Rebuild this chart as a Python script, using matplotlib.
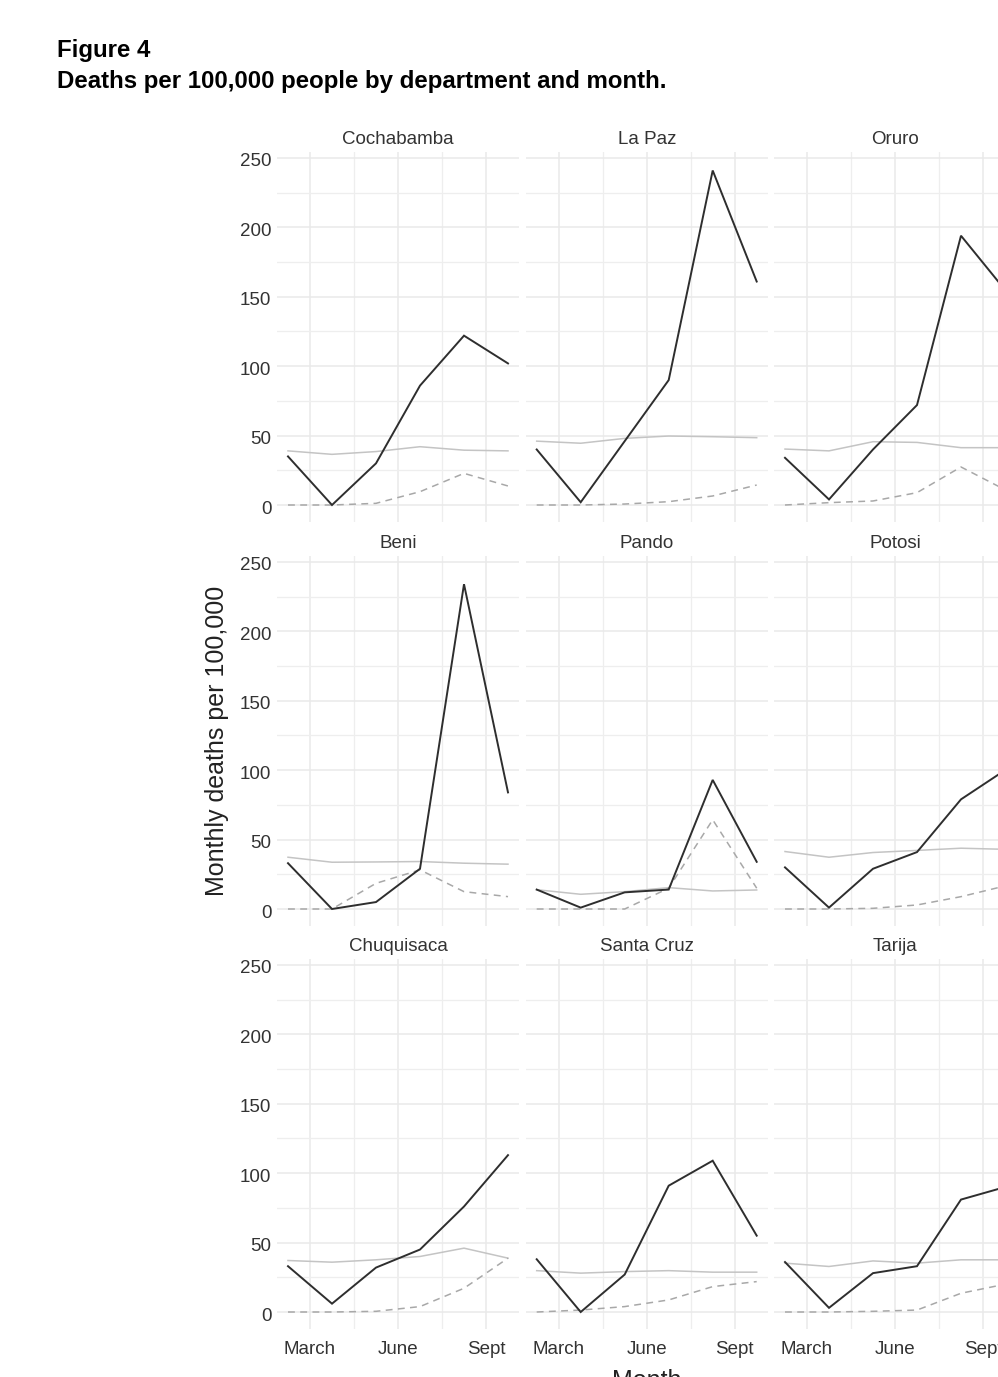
import matplotlib
matplotlib.use("Agg")
import matplotlib.pyplot as plt
import matplotlib.transforms as mtransforms

# ---------------- data ----------------
departments = ["Cochabamba", "La Paz", "Oruro",
               "Beni", "Pando", "Potosi",
               "Chuquisaca", "Santa Cruz", "Tarija"]
month_index = [1, 2, 3, 4, 5, 6]
tick_positions = [1.5, 3.5, 5.5]
tick_labels = ["March", "June", "Sept"]
y_ticks = [0, 50, 100, 150, 200, 250]

# monthly deaths per 100,000 (black solid line)
observed = [
    [35, 0, 30, 86, 122, 102],      # Cochabamba
    [40, 2, 46, 90, 241, 161],      # La Paz
    [34, 4, 40, 72, 194, 155],      # Oruro
    [33, 0, 5, 29, 234, 84],        # Beni
    [14, 1, 12, 14, 93, 34],        # Pando
    [30, 1, 29, 41, 79, 100],       # Potosi
    [33, 6, 32, 45, 76, 113],       # Chuquisaca
    [38, 0, 27, 91, 109, 55],       # Santa Cruz
    [36, 3, 28, 33, 81, 90],        # Tarija
]
# expected / baseline (light gray solid line)
expected = [
    [39, 36.5, 38.5, 42, 39.5, 39],
    [46, 44.5, 48, 49.7, 49.2, 48.5],
    [40.3, 39, 45.6, 45.1, 41.3, 41.3],
    [37.3, 33.7, 33.9, 34.2, 33, 32.3],
    [13.9, 10.6, 12.5, 15.4, 13, 13.7],
    [41.4, 37.3, 40.7, 42.2, 43.8, 43],
    [37.1, 35.9, 37.6, 40, 46, 38.8],
    [29.8, 28, 29.1, 29.8, 28.7, 28.7],
    [35.2, 32.8, 36.8, 35.2, 37.6, 37.6],
]
# reported COVID-19 deaths (dashed gray line)
covid = [
    [0, 0, 1.2, 9.6, 22.8, 13.7],
    [0, 0, 0.7, 2.4, 6.5, 14.4],
    [0, 1.7, 2.9, 8.9, 27.4, 11],
    [0, 0, 18.5, 28.2, 12.5, 8.9],
    [0, 0, 0, 15, 64.3, 15],
    [0, 0, 0.5, 2.9, 8.9, 16.6],
    [0, 0, 0.5, 3.9, 17.1, 38.8],
    [0, 1.4, 3.9, 8.7, 18.3, 21.9],
    [0, 0, 0.5, 1.4, 13.5, 20],
]

# ---------------- layout ----------------
W, H = 998, 1377
fig = plt.figure(figsize=(W / 100, H / 100), dpi=100)
fig.patch.set_facecolor("white")

FONT = ["Liberation Sans", "DejaVu Sans"]
plt.rcParams["font.family"] = FONT

col_left = [277, 525.7, 774]        # pixel left of each panel
row_top = [152.3, 556.3, 959.3]     # pixel top of each panel
pw, ph = 242, 369.5

down2 = mtransforms.ScaledTranslation(0, -2.0 / 100, fig.dpi_scale_trans)

for i, dept in enumerate(departments):
    r, c = divmod(i, 3)
    x0 = col_left[c]
    y0 = row_top[r]
    ax = fig.add_axes([x0 / W, 1 - (y0 + ph) / H, pw / W, ph / H])
    ax.set_xlim(0.75, 6.25)
    ax.set_ylim(-12.1, 254.1)
    ax.set_facecolor("white")
    for s in ax.spines.values():
        s.set_visible(False)
    ax.set_xticks(tick_positions)
    ax.set_xticks([2.5, 4.5], minor=True)
    ax.set_yticks(y_ticks)
    ax.set_yticks([25, 75, 125, 175, 225], minor=True)
    ax.grid(which="major", color="#e9e9e9", lw=1.1)
    ax.grid(which="minor", color="#eeeeee", lw=0.9)
    ax.set_axisbelow(True)
    ax.tick_params(which="both", length=0)
    if c == 0:
        ax.set_yticklabels([str(v) for v in y_ticks], fontsize=13.5,
                           color="#333333")
        ax.tick_params(axis="y", pad=4)
        for lab in ax.get_yticklabels():
            lab.set_transform(lab.get_transform() + down2)
    else:
        ax.set_yticklabels([])
    if r == 2:
        ax.set_xticklabels(tick_labels, fontsize=13.5, color="#333333")
        ax.tick_params(axis="x", pad=9)
    else:
        ax.set_xticklabels([])

    ax.plot(month_index, expected[i], color="#c4c4c4", lw=1.1,
            solid_joinstyle="round")
    ax.plot(month_index, covid[i], color="#a8a8a8", lw=1.1,
            dashes=(4.5, 3.5))
    ax.plot(month_index, observed[i], color="#2e2e2e", lw=1.4,
            solid_joinstyle="miter")

    ax.text(0.5, 1 + 12.5 / ph, dept, transform=ax.transAxes,
            ha="center", va="center", fontsize=13.5, color="#333333")

# axis titles
fig.text(217 / W, 1 - 741 / H, "Monthly deaths per 100,000", rotation=90,
         ha="center", va="center", fontsize=18, color="#222222")
fig.text(647 / W, 1 - 1369 / H, "Month", ha="center", va="top",
         fontsize=18, color="#222222")

# figure heading
fig.text(57 / W, 1 - 57 / H, "Figure 4", ha="left", va="baseline",
         fontsize=17.3, fontweight="bold", color="black")
fig.text(57 / W, 1 - 88 / H,
         "Deaths per 100,000 people by department and month.",
         ha="left", va="baseline", fontsize=17.3, fontweight="bold",
         color="black")

fig.savefig("out.png", dpi=100, facecolor="white")
